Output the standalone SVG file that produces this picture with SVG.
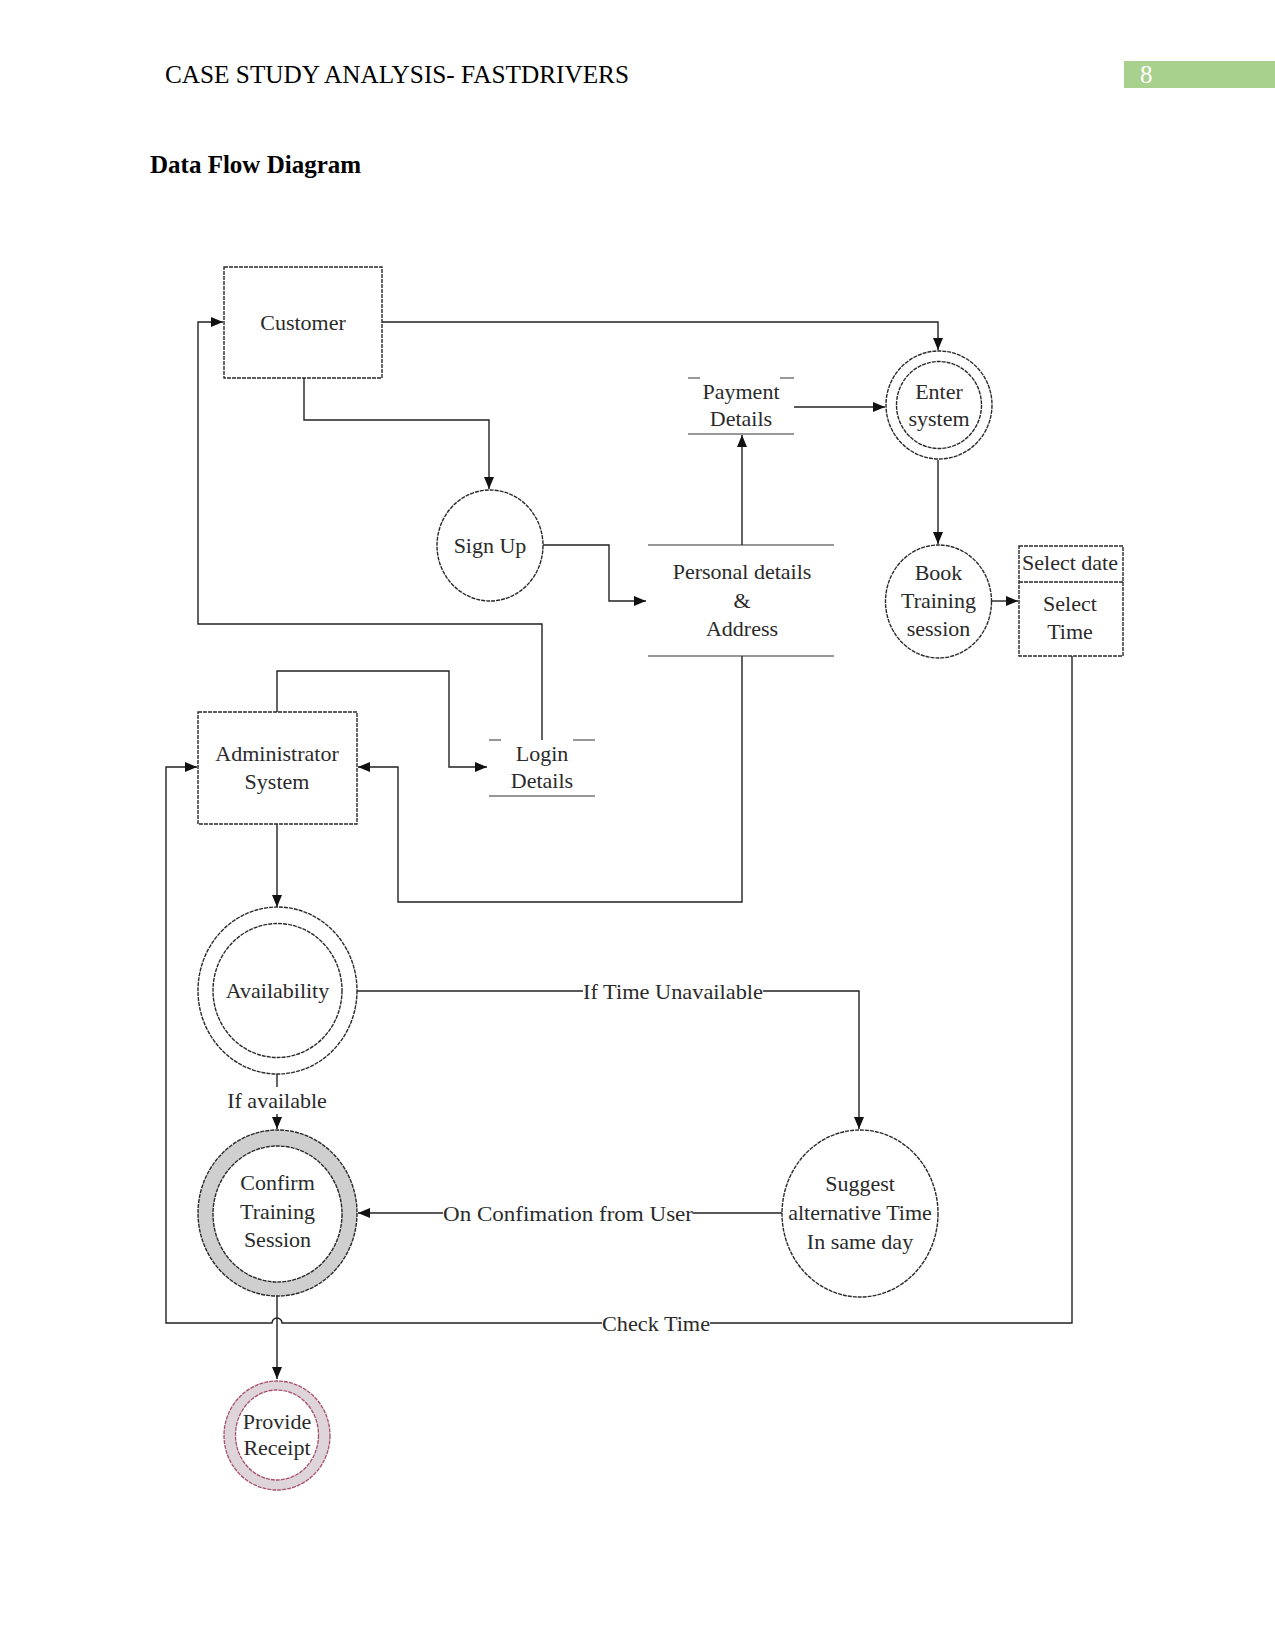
<svg xmlns="http://www.w3.org/2000/svg" width="1275" height="1651" viewBox="0 0 1275 1651">
<defs>
<style>
.t{font-family:"Liberation Serif","Times New Roman",serif;font-size:22px;fill:#2a2a2a;text-anchor:middle}
.h{font-family:"Liberation Serif","Times New Roman",serif;font-size:25px;fill:#000}
.sh{fill:#fff;stroke:#2a2a2a;stroke-width:1.4;stroke-dasharray:4 1}
.ln{fill:none;stroke:#222;stroke-width:1.4}
.st{stroke:#333;stroke-width:1.2}
</style>
<marker id="ar" viewBox="0 0 12 10" refX="12" refY="5" markerWidth="12" markerHeight="10" markerUnits="userSpaceOnUse" orient="auto">
<path d="M0,0 L12,5 L0,10 z" fill="#111"/>
</marker>
</defs>
<rect width="1275" height="1651" fill="#fff"/>
<g id="header">
<text class="h" x="165" y="83" textLength="464" lengthAdjust="spacingAndGlyphs">CASE STUDY ANALYSIS- FASTDRIVERS</text>
<rect x="1124" y="61" width="151" height="27" fill="#a9d18e"/>
<text class="h" x="1140" y="83" style="fill:#fff">8</text>
<text class="h" x="150" y="173" style="font-weight:bold">Data Flow Diagram</text>
</g>
<g id="connectors">
<path class="ln" d="M382,322 H938 V350" marker-end="url(#ar)"/>
<path class="ln" d="M304,378 V420 H489 V489" marker-end="url(#ar)"/>
<path class="ln" d="M543,545 H609 V601 H646" marker-end="url(#ar)"/>
<path class="ln" d="M742,545 V435" marker-end="url(#ar)"/>
<path class="ln" d="M794,407 H885" marker-end="url(#ar)"/>
<path class="ln" d="M938,460 V544" marker-end="url(#ar)"/>
<path class="ln" d="M991,601 H1018" marker-end="url(#ar)"/>
<path class="ln" d="M542,740 V624 H198 V322 H223" marker-end="url(#ar)"/>
<path class="ln" d="M277,712 V671 H449 V767 H487" marker-end="url(#ar)"/>
<path class="ln" d="M742,656 V902 H398 V767 H358" marker-end="url(#ar)"/>
<path class="ln" d="M277,824 V907" marker-end="url(#ar)"/>
<path class="ln" d="M357,991 H583"/>
<path class="ln" d="M763,991 H859 V1129" marker-end="url(#ar)"/>
<path class="ln" d="M277,1074 V1087"/>
<path class="ln" d="M277,1114 V1129" marker-end="url(#ar)"/>
<path class="ln" d="M782,1213 H693"/>
<path class="ln" d="M443,1213 H358" marker-end="url(#ar)"/>
<path class="ln" d="M277,1296 V1379" marker-end="url(#ar)"/>
<path class="ln" d="M1072,656 V1323 H710"/>
<path class="ln" d="M602,1323 H282 A5,5 0 0 0 272,1323 H166 V767 H197" marker-end="url(#ar)"/>
<text class="t" x="673" y="999" textLength="180" lengthAdjust="spacingAndGlyphs">If Time Unavailable</text>
<text class="t" x="277" y="1108">If available</text>
<text class="t" x="568" y="1221" textLength="250" lengthAdjust="spacingAndGlyphs">On Confimation from User</text>
<text class="t" x="656" y="1331" textLength="108" lengthAdjust="spacingAndGlyphs">Check Time</text>
</g>
<g id="customer">
<rect class="sh" x="224" y="267" width="158" height="111"/>
<text class="t" x="303" y="330">Customer</text>
</g>
<g id="enter-system">
<ellipse class="sh" cx="939" cy="405" rx="53" ry="54"/>
<ellipse class="sh" cx="939" cy="405" rx="42.5" ry="43.5"/>
<text class="t" x="939" y="399">Enter</text>
<text class="t" x="939" y="426">system</text>
</g>
<g id="payment-details">
<path class="st" d="M688,378 H700 M780,378 H794 M688,434 H794"/>
<text class="t" x="741" y="399">Payment</text>
<text class="t" x="741" y="426">Details</text>
</g>
<g id="sign-up">
<ellipse class="sh" cx="490" cy="545.5" rx="53" ry="55.5"/>
<text class="t" x="490" y="553">Sign Up</text>
</g>
<g id="personal-details">
<path class="st" d="M648,545 H834 M648,656 H834"/>
<text class="t" x="742" y="579">Personal details</text>
<text class="t" x="742" y="608">&amp;</text>
<text class="t" x="742" y="636">Address</text>
</g>
<g id="book-training">
<ellipse class="sh" cx="938.5" cy="601.5" rx="53" ry="56.5"/>
<text class="t" x="938.5" y="580">Book</text>
<text class="t" x="938.5" y="608">Training</text>
<text class="t" x="938.5" y="636">session</text>
</g>
<g id="select-date-time">
<rect class="sh" x="1019" y="546" width="104" height="110"/>
<path class="sh" d="M1019,582 H1123" style="fill:none"/>
<text class="t" x="1070" y="570">Select date</text>
<text class="t" x="1070" y="611">Select</text>
<text class="t" x="1070" y="639">Time</text>
</g>
<g id="administrator-system">
<rect class="sh" x="198" y="712" width="159" height="112"/>
<text class="t" x="277" y="761">Administrator</text>
<text class="t" x="277" y="789">System</text>
</g>
<g id="login-details">
<path class="st" d="M489,740 H501 M573,740 H595 M489,796 H595"/>
<text class="t" x="542" y="761">Login</text>
<text class="t" x="542" y="788">Details</text>
</g>
<g id="availability">
<ellipse class="sh" cx="277.5" cy="990.5" rx="79.5" ry="83.5"/>
<ellipse class="sh" cx="277.5" cy="990.5" rx="64.5" ry="67"/>
<text class="t" x="277.5" y="998">Availability</text>
</g>
<g id="confirm-training">
<ellipse class="sh" cx="277.5" cy="1213" rx="79.5" ry="83" style="fill:#cfcfcf"/>
<ellipse class="sh" cx="277.5" cy="1214" rx="64.5" ry="68"/>
<text class="t" x="277.5" y="1190">Confirm</text>
<text class="t" x="277.5" y="1219">Training</text>
<text class="t" x="277.5" y="1247">Session</text>
</g>
<g id="suggest-alternative">
<ellipse class="sh" cx="860" cy="1213.5" rx="78" ry="83.5"/>
<text class="t" x="860" y="1191">Suggest</text>
<text class="t" x="860" y="1220">alternative Time</text>
<text class="t" x="860" y="1249">In same day</text>
</g>
<g id="provide-receipt">
<ellipse cx="277" cy="1435.5" rx="53" ry="54.5" fill="#ddd5d9" stroke="#a8506e" stroke-width="1.3" stroke-dasharray="4 1"/>
<ellipse cx="277" cy="1435" rx="41.5" ry="45" fill="#fff" stroke="#a8506e" stroke-width="1.3" stroke-dasharray="4 1"/>
<text class="t" x="277" y="1429">Provide</text>
<text class="t" x="277" y="1455">Receipt</text>
</g>
</svg>
